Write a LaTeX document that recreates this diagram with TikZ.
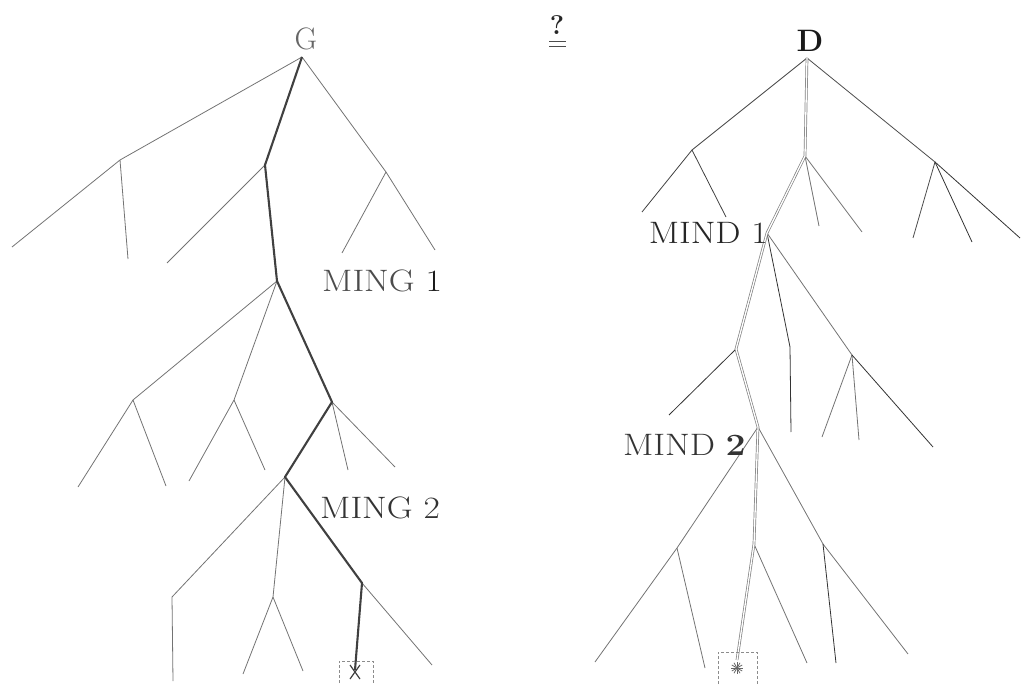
\documentclass[tikz,border=0pt]{standalone}
\begin{document}
\begin{tikzpicture}[x=1pt,y=-1pt,
  edge/.style={draw=black!55, line width=0.8pt},
  heavy/.style={draw=black!75, line width=2.1pt, line join=round},
  twin/.style={draw=black!50, double=white, double distance=1.3pt, line width=0.7pt, line join=round},
  lbl/.style={font=\fontsize{31}{36}\selectfont, inner sep=0pt, text=black!70},
  leafbox/.style={draw=black!45, densely dashed, line width=0.6pt}]
\useasboundingbox (0,0) rectangle (1021,685);
\newcommand{\wide}[1]{\scalebox{1.15}[1]{#1}}

% ---------- left tree (G) ----------
\node[lbl, text=black!60] (G) at (306,39) {G};
\coordinate (g0) at (302,57);
\coordinate (l1) at (120,160); \coordinate (l1a) at (12,247); \coordinate (l1b) at (128,259);
\coordinate (m1) at (265,165); \coordinate (m1a) at (167,263);
\coordinate (r1) at (386,172); \coordinate (r1a) at (342,253); \coordinate (r1b) at (435,250);
\coordinate (n1) at (277,281);
\coordinate (a) at (133,400); \coordinate (a1) at (78,487); \coordinate (a2) at (166,486);
\coordinate (b) at (234,400); \coordinate (b1) at (189,481); \coordinate (b2) at (265,470);
\coordinate (c) at (332,402); \coordinate (c1) at (348,470); \coordinate (c2) at (395,467);
\coordinate (d) at (285,477);
\coordinate (e) at (172,597); \coordinate (e1) at (173,681);
\coordinate (f) at (273,597); \coordinate (f1) at (243,674); \coordinate (f2) at (303,671);
\coordinate (h) at (362,583); \coordinate (h1) at (432,665);
\coordinate (gx) at (355,670);

\draw[edge] (g0) -- (l1) -- (l1a);
\draw[edge] (l1) -- (l1b);
\draw[edge] (m1) -- (m1a);
\draw[edge] (g0) -- (r1) -- (r1a);
\draw[edge] (r1) -- (r1b);
\draw[edge] (n1) -- (a) -- (a1);
\draw[edge] (a) -- (a2);
\draw[edge] (n1) -- (b) -- (b1);
\draw[edge] (b) -- (b2);
\draw[edge] (c) -- (c1);
\draw[edge] (c) -- (c2);
\draw[edge] (d) -- (e) -- (e1);
\draw[edge] (d) -- (f) -- (f1);
\draw[edge] (f) -- (f2);
\draw[edge] (h) -- (h1);
\draw[heavy] (g0) -- (m1) -- (n1) -- (c) -- (d) -- (h) -- (gx);

% leaf box with cross
\draw[leafbox] (339,683) -- (339,661) -- (373,661) -- (373,683);
\draw[draw=black!75, line width=1.2pt] (350,665) -- (360,679) (360,665) -- (350,679);

\node[lbl, anchor=west] (ming1) at (322,281) {\wide{MING \textcolor{black!90}{1}}};
\node[lbl, anchor=west, text=black!80] (ming2) at (320,508) {\wide{MING 2}};

% ---------- query mark ----------
\node[font=\fontsize{27}{30}\selectfont\bfseries, inner sep=0pt, text=black!85] (q?) at (557,25) {?};
\draw[black!70, line width=1pt] (549,42) -- (566,42) (549,47) -- (566,47);

% ---------- right tree (D) ----------
\node[lbl, text=black!90, font=\fontsize{31}{36}\selectfont\bfseries] (D) at (810,41) {D};
\coordinate (d0) at (807,58);
\coordinate (p) at (692,150); \coordinate (p1) at (642,212); \coordinate (p2) at (726,217);
\coordinate (q) at (805,156); \coordinate (q1) at (819,226); \coordinate (q2) at (862,232);
\coordinate (s) at (935,162); \coordinate (s1) at (913,238); \coordinate (s2) at (972,242); \coordinate (s3) at (1020,238);
\coordinate (r) at (767,233);
\coordinate (t) at (736,349); \coordinate (t1) at (669,415);
\coordinate (u) at (790,347); \coordinate (u1) at (791,432);
\coordinate (v) at (852,355); \coordinate (v1) at (822,437); \coordinate (v2) at (859,440); \coordinate (v3) at (933,447);
\coordinate (w) at (758,427);
\coordinate (x) at (677,548); \coordinate (x1) at (595,662); \coordinate (x2) at (705,668);
\coordinate (y) at (754,544); \coordinate (y1) at (807,663);
\coordinate (z) at (823,544); \coordinate (z1) at (908,654); \coordinate (z2) at (836,663);
\coordinate (dx) at (737,660);

\draw[edge, black!75] (d0) -- (p) -- (p1);
\draw[edge, black!75] (p) -- (p2);
\draw[edge] (q) -- (q1);
\draw[edge] (q) -- (q2);
\draw[edge, black!70] (d0) -- (s) -- (s1);
\draw[edge, black!80] (s) -- (s2);
\draw[edge, black!80] (s) -- (s3);
\draw[edge, black!80] (r) -- (u) -- (u1);
\draw[edge] (r) -- (v) -- (v1);
\draw[edge] (v) -- (v2);
\draw[edge, black!80] (v) -- (v3);
\draw[edge, black!80] (t) -- (t1);
\draw[edge] (w) -- (x) -- (x1);
\draw[edge] (x) -- (x2);
\draw[edge] (y) -- (y1);
\draw[edge] (w) -- (z) -- (z1);
\draw[edge, black!80] (z) -- (z2);
\draw[twin] (d0) -- (q) -- (r) -- (t) -- (w) -- (y) -- (dx);

% leaf box with star
\draw[leafbox] (718,684) -- (718,652) -- (757,652) -- (757,684);
\foreach \ang in {0,30,...,330}
  \draw[black!60, line width=0.8pt] (737,668) -- ++(\ang:6);

\node[lbl, anchor=east, text=black!85] (mind1) at (768,233) {\wide{MIND 1}};
\node[lbl, anchor=east, text=black!80] (mind2) at (746,445) {\wide{MIND \textbf{2}}};
\end{tikzpicture}
\end{document}
